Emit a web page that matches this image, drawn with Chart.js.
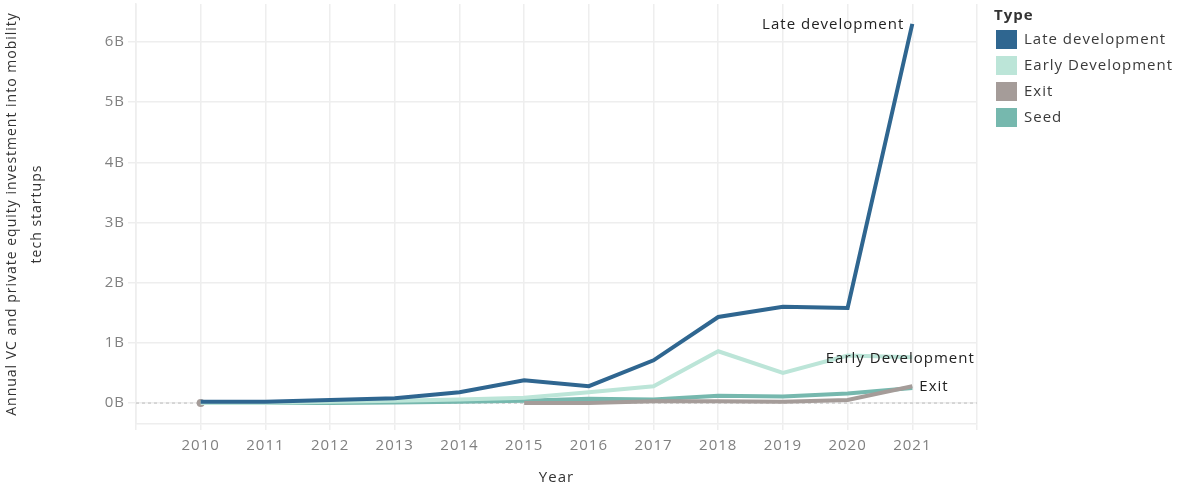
<!DOCTYPE html>
<html>
<head>
<meta charset="utf-8">
<script src="https://cdn.jsdelivr.net/npm/chart.js@4"></script>
<style>
  html, body { margin: 0; padding: 0; background: #fff; }
  #wrap { width: 1177px; height: 483px; position: relative; }
</style>
</head>
<body>
<div id="wrap"><canvas id="chart"></canvas></div>
<script>
// values in billions (USD)
var years = [2010, 2011, 2012, 2013, 2014, 2015, 2016, 2017, 2018, 2019, 2020, 2021];
var lateDevelopment = [0.02, 0.02, 0.05, 0.08, 0.18, 0.38, 0.28, 0.71, 1.43, 1.60, 1.58, 6.30];
var earlyDevelopment = [0.00, 0.00, 0.02, 0.04, 0.06, 0.09, 0.18, 0.28, 0.86, 0.50, 0.79, 0.76];
var exitValues = [0.00, null, null, null, null, 0.00, 0.00, 0.03, 0.03, 0.02, 0.05, 0.28];
var seed = [0.00, 0.00, 0.00, 0.01, 0.02, 0.04, 0.07, 0.06, 0.12, 0.11, 0.16, 0.25];
var yTicks = [0, 1, 2, 3, 4, 5, 6];

var seriesNames = ['Late development', 'Early Development', 'Exit', 'Seed'];
var seriesColors = ['#2f6690', '#bce5d8', '#a59c99', '#76b8ae'];
var legendTitle = 'Type';

var FONT = '"Open Sans", "DejaVu Sans", sans-serif';
var GRID = '#eeeeee';
var SPACING = '1px';

function toPoints(arr){
    var pts = [];
    for(var i = 0; i < years.length; i++){
        pts.push({x: years[i], y: arr[i]});
    }
    return pts;
}

// lone points (no neighbours) get a dot, like the Exit value in 2010
function lonePointRadius(ctx){
    var d = ctx.dataset.data;
    var i = ctx.dataIndex;
    if(d[i] == null || d[i].y == null) return 0;
    var prev = i > 0 ? d[i - 1].y : null;
    var next = i < d.length - 1 ? d[i + 1].y : null;
    return (prev == null && next == null) ? 4 : 0;
}

// the reference text is set a bit wider than Open Sans
var letterSpacing = {
    id: 'letterSpacing',
    beforeUpdate: function(chart){ chart.ctx.letterSpacing = SPACING; },
    beforeDraw: function(chart){ chart.ctx.letterSpacing = SPACING; }
};

// dotted reference line at zero
var zeroLine = {
    id: 'zeroLine',
    beforeDatasetsDraw: function(chart){
        var c = chart.ctx, a = chart.chartArea;
        var y = chart.scales.y.getPixelForValue(0);
        c.save();
        c.strokeStyle = '#bdbdbd';
        c.lineWidth = 1;
        c.setLineDash([3, 3]);
        c.beginPath();
        c.moveTo(a.left, y);
        c.lineTo(a.right, y);
        c.stroke();
        c.restore();
    }
};

// end labels next to the last point of a few series
var endLabels = {
    id: 'endLabels',
    afterDatasetsDraw: function(chart){
        var c = chart.ctx;
        var xs = chart.scales.x, ys = chart.scales.y;
        var last = years.length - 1;
        var items = [
            {text: 'Late development', v: lateDevelopment[last], dx: -8, dy: 1, align: 'right'},
            {text: 'Early Development', v: earlyDevelopment[last], dx: -12, dy: 1, align: 'center'},
            {text: 'Exit', v: exitValues[last], dx: 7, dy: 1, align: 'left'}
        ];
        c.save();
        c.font = '15px ' + FONT;
        c.fillStyle = '#222';
        c.textBaseline = 'middle';
        items.forEach(function(it){
            c.textAlign = it.align;
            c.fillText(it.text, xs.getPixelForValue(years[last]) + it.dx, ys.getPixelForValue(it.v) + it.dy);
        });
        c.restore();
    }
};

// legend on the right, ggplot style
var sideLegend = {
    id: 'sideLegend',
    afterDraw: function(chart){
        var c = chart.ctx;
        var x0 = chart.chartArea.right + 19;
        c.save();
        c.textBaseline = 'middle';
        c.textAlign = 'left';
        c.fillStyle = '#333';
        c.font = 'bold 15px ' + FONT;
        c.fillText(legendTitle, x0 - 2, 16);
        c.font = '15px ' + FONT;
        chart.data.datasets.forEach(function(ds, i){
            var cy = 39 + i * 26;
            c.fillStyle = ds.borderColor;
            c.fillRect(x0, cy - 9, 21, 19);
            c.fillStyle = '#3a3a3a';
            c.fillText(ds.label, x0 + 28, cy + 1);
        });
        c.restore();
    }
};

var datasets = [lateDevelopment, earlyDevelopment, exitValues, seed].map(function(arr, i){
    return {
        label: seriesNames[i],
        data: toPoints(arr),
        borderColor: seriesColors[i],
        backgroundColor: seriesColors[i],
        borderWidth: 4,
        pointRadius: lonePointRadius,
        pointBorderWidth: 0,
        pointHoverRadius: 0,
        tension: 0,
        spanGaps: false
    };
});

new Chart(document.getElementById('chart'), {
    type: 'line',
    data: { datasets: datasets },
    options: {
        responsive: true,
        maintainAspectRatio: false,
        animation: false,
        layout: { padding: { top: 3, left: 0, right: 200, bottom: 0 } },
        plugins: {
            tooltip: { enabled: false },
            legend: { display: false }
        },
        scales: {
            x: {
                type: 'linear',
                min: 2009,
                max: 2022,
                afterBuildTicks: function(scale){
                    var t = [];
                    for(var v = 2009; v <= 2022; v++) t.push({value: v});
                    scale.ticks = t;
                },
                afterFit: function(scale){
                    scale.height = 59;
                    scale.paddingLeft = 0;
                    scale.paddingRight = 0;
                },
                ticks: {
                    color: '#808080',
                    font: { family: FONT, size: 15 },
                    padding: 7,
                    maxRotation: 0,
                    autoSkip: false,
                    callback: function(v){
                        return (v < years[0] || v > years[years.length - 1]) ? '' : String(v);
                    }
                },
                grid: { color: GRID, lineWidth: 1.5, tickLength: 6, tickColor: GRID },
                border: { display: true, color: GRID, width: 1.5 },
                title: {
                    display: true,
                    text: 'Year',
                    color: '#333',
                    font: { family: FONT, size: 15 },
                    padding: { top: 0, bottom: -4 }
                }
            },
            y: {
                type: 'linear',
                min: -0.348,
                max: 6.63,
                afterBuildTicks: function(scale){
                    scale.ticks = yTicks.map(function(v){ return {value: v}; });
                },
                afterFit: function(scale){
                    scale.width = 136;
                    scale.paddingTop = 0;
                    scale.paddingBottom = 0;
                },
                ticks: {
                    color: '#808080',
                    font: { family: FONT, size: 15 },
                    padding: 3,
                    callback: function(v){ return v + 'B'; }
                },
                grid: { color: GRID, lineWidth: 1.5, tickLength: 8, tickColor: GRID },
                border: { display: true, color: GRID, width: 1.5 },
                title: {
                    display: true,
                    text: ['Annual VC and private equity investment into mobility', 'tech startups'],
                    color: '#333',
                    font: { family: FONT, size: 14, lineHeight: 1.8 },
                    padding: { top: -1, bottom: 0 }
                }
            }
        }
    },
    plugins: [letterSpacing, zeroLine, endLabels, sideLegend]
});
</script>
</body>
</html>
